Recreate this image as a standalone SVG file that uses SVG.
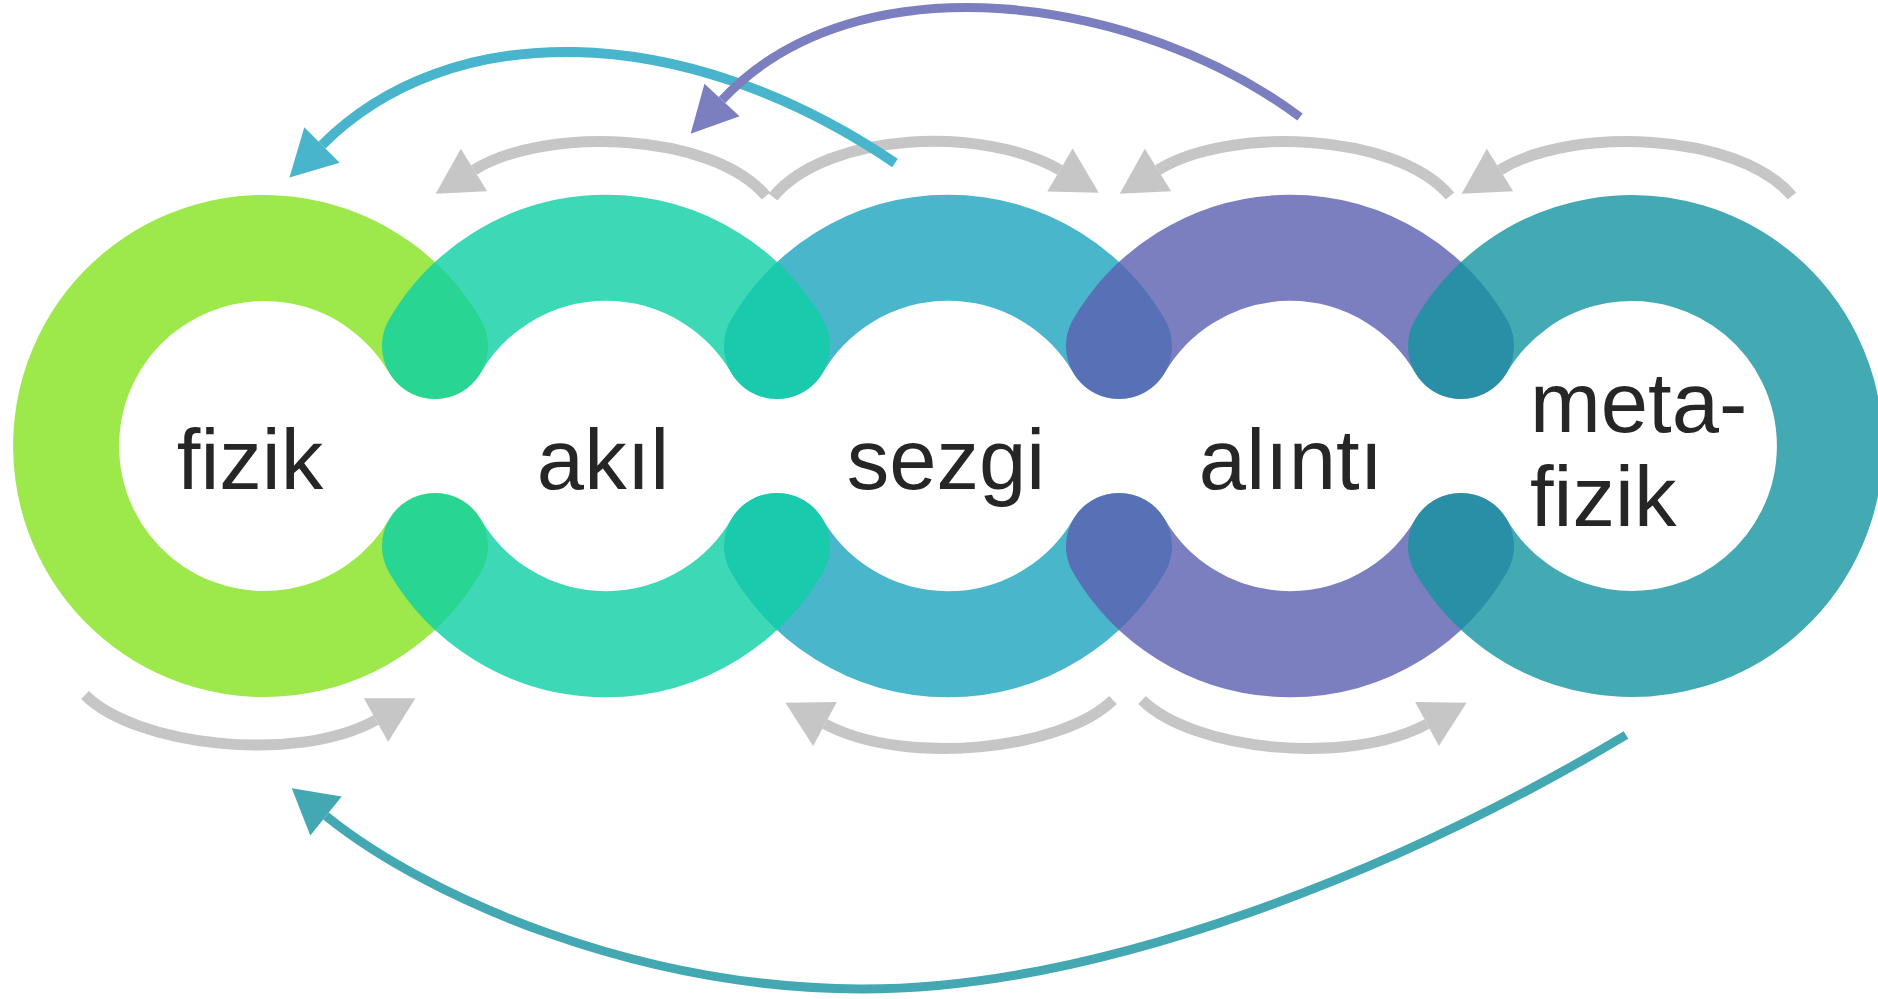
<svg xmlns="http://www.w3.org/2000/svg" width="1878" height="999" viewBox="0 0 1878 999">
  <style>
    .ring { fill: none; stroke-width: 106; stroke-linecap: round; stroke-opacity: 0.8; }
    .lbl { font-family: "Liberation Sans", Arial, sans-serif; font-size: 85px; fill: #262626; }
    .c { text-anchor: middle; }
    .gray { fill: none; stroke: #c6c6c6; stroke-width: 11; marker-end: url(#hg); }
    .cyan { fill: none; stroke: #48b5cc; stroke-width: 10; marker-end: url(#hc); }
    .purple { fill: none; stroke: #7b7fc0; stroke-width: 9; marker-end: url(#hp); }
    .teal { fill: none; stroke: #43a8b2; stroke-width: 9; marker-end: url(#ht); }
  </style>
  <defs>
    <marker id="hg" markerUnits="userSpaceOnUse" viewBox="0 -25 45 50" refX="0" refY="0" markerWidth="45" markerHeight="50" orient="auto" overflow="visible">
      <path d="M0,-25 L45,0 L0,25 Z" fill="#c6c6c6"/>
    </marker>
    <marker id="hc" markerUnits="userSpaceOnUse" viewBox="0 -25 45 50" refX="0" refY="0" markerWidth="45" markerHeight="50" orient="auto" overflow="visible">
      <path d="M0,-25 L46,0 L0,25 Z" fill="#48b5cc"/>
    </marker>
    <marker id="hp" markerUnits="userSpaceOnUse" viewBox="0 -25 45 50" refX="0" refY="0" markerWidth="45" markerHeight="50" orient="auto" overflow="visible">
      <path d="M0,-24 L46,0 L0,24 Z" fill="#7b7fc0"/>
    </marker>
    <marker id="ht" markerUnits="userSpaceOnUse" viewBox="0 -25 45 50" refX="0" refY="0" markerWidth="45" markerHeight="50" orient="auto" overflow="visible">
      <path d="M0,-25 L44,0 L0,25 Z" fill="#43a8b2"/>
    </marker>
  </defs>
  <rect width="1878" height="999" fill="#ffffff"/>

  <g id="node-fizik">
    <path class="ring" stroke="#84e21e" d="M435,346 A198,198 0 1 0 435,546"/>
    <text class="lbl c" x="250" y="489">fizik</text>
  </g>
  <g id="node-sezgi">
    <path class="ring" stroke="#1da4bf" d="M777,346 A198,198 0 0 1 1119,346"/>
    <path class="ring" stroke="#1da4bf" d="M777,546 A198,198 0 0 0 1119,546"/>
    <text class="lbl c" x="946" y="489">sezgi</text>
  </g>
  <g id="node-akil">
    <path class="ring" stroke="#0dcfa4" d="M435,346 A198,198 0 0 1 777,346"/>
    <path class="ring" stroke="#0dcfa4" d="M435,546 A198,198 0 0 0 777,546"/>
    <text class="lbl c" x="603" y="489">akıl</text>
  </g>
  <g id="node-alinti">
    <path class="ring" stroke="#5a5fb0" d="M1119,346 A198,198 0 0 1 1461,346"/>
    <path class="ring" stroke="#5a5fb0" d="M1119,546 A198,198 0 0 0 1461,546"/>
    <text class="lbl c" x="1291" y="489">alıntı</text>
  </g>
  <g id="node-metafizik">
    <path class="ring" stroke="#1494a0" d="M1461,346 A198,198 0 1 1 1461,546"/>
    <text class="lbl" x="1530" y="432">meta-</text>
    <text class="lbl" x="1530" y="526">fizik</text>
  </g>

  <g id="connectors">
    <path class="gray" d="M766,196 C712,132 545,126 474,170"/>
    <path class="gray" d="M773,197 C828,131 985,126 1060,170"/>
    <path class="gray" d="M1450,196 C1396,132 1229,126 1158,170"/>
    <path class="gray" d="M1792,196 C1738,132 1571,126 1500,170"/>
    <path class="gray" d="M85,695 C135,745 295,765 376,720"/>
    <path class="gray" d="M1113,700 C1062,750 905,767 825,724"/>
    <path class="gray" d="M1142,700 C1193,750 1347,767 1427,724"/>
    <path class="cyan" d="M895,163 C679,17 448,19 322,145"/>
    <path class="purple" d="M1300,117 C1140,-3 858,-46 722,100"/>
    <path class="teal" d="M1626,735 C1400,870 1100,990 860,989 C640,988 430,900 326,816"/>
  </g>
</svg>
